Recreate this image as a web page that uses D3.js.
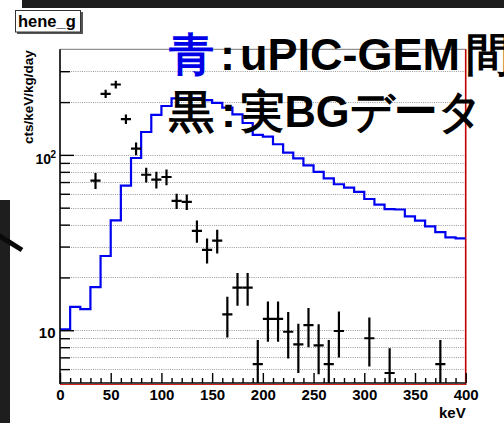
<!DOCTYPE html>
<html>
<head>
<meta charset="utf-8">
<script src="https://cdn.jsdelivr.net/npm/d3@7/dist/d3.min.js"></script>
<style>
  html, body { margin: 0; padding: 0; background: #fff; }
  svg { display: block; }
  text { font-family: "Liberation Sans", Arial, sans-serif; font-weight: bold; }
</style>
</head>
<body>
<svg id="chart" width="504" height="423"></svg>
<script>
// Simulated uPIC-GEM gap spectrum (blue histogram), 10 keV bins from 0 to 400 keV
const simRate = [
  10.1, 13.6, 13.2, 17.6, 26.5, 42.3, 66.8, 96, 135, 169,
  190, 210, 211, 211, 205, 198, 186, 170, 152, 130,
  127, 115, 103, 95.5, 87, 80, 73.5, 68, 65, 61.5,
  56, 52, 49, 48.8, 44.6, 42.2, 39.1, 36.3, 33.8, 33.4
];
const binWidth = 10;

// Measured background data (black points with error bars)
const dataKeV  = [35, 45, 55, 65, 75, 85, 95, 105, 115, 125, 135, 145, 155, 165, 175, 185, 195, 205, 215, 225, 235, 245, 255, 265, 275, 305, 325, 375];
const dataRate = [71.3, 223, 252, 160, 108.6, 77, 72.2, 74.8, 54.6, 54, 36.9, 28.7, 32.4, 12.3, 17.5, 17.5, 6.4, 11.6, 11.6, 9.8, 8.3, 10.7, 8.2, 6.4, 9.9, 9.0, 5.7, 6.4];
const dataErr  = [7.4, 12, 13, 10, 9, 7.5, 7.8, 7.6, 5.5, 5.5, 5.4, 4.7, 5, 3.2, 3.7, 3.7, 2.4, 3.0, 3.0, 2.9, 2.6, 2.7, 2.6, 2.4, 2.9, 2.8, 2.2, 2.4];

// Axis ticks
const xMajor = [0, 50, 100, 150, 200, 250, 300, 350, 400];
const xMinor = [10, 20, 30, 40, 60, 70, 80, 90, 110, 120, 130, 140, 160, 170, 180, 190, 210, 220, 230, 240, 260, 270, 280, 290, 310, 320, 330, 340, 360, 370, 380, 390];
const yMajor = [10, 100];
const yMinor = [6, 7, 8, 9, 20, 30, 40, 50, 60, 70, 80, 90, 200, 300];

const svg = d3.select("#chart");
const L = 60, R = 465.7, T = 49.3, B = 383;

const x = d3.scaleLinear().domain([0, 400]).range([L, R]);
const y = d3.scaleLog().domain([5, 400]).range([B, T]);

// Dark slide surroundings
svg.append("rect").attr("x", 22).attr("y", 0).attr("width", 482).attr("height", 8).attr("fill", "#1d1d1d");
svg.append("rect").attr("x", 0).attr("y", 200).attr("width", 10).attr("height", 223).attr("fill", "#1e1e1e");
svg.append("line").attr("x1", -2).attr("y1", 235).attr("x2", 22).attr("y2", 250)
  .attr("stroke", "#0a0a0a").attr("stroke-width", 5);

// Title box
svg.append("rect").attr("x", 17).attr("y", 12).attr("width", 66).attr("height", 22).attr("fill", "#555");
svg.append("rect").attr("x", 15.5).attr("y", 10.5).attr("width", 65).attr("height", 21.5)
  .attr("fill", "#fff").attr("stroke", "#333").attr("stroke-width", 1);
svg.append("text").attr("x", 18).attr("y", 27).attr("font-size", 16.5).attr("fill", "#000").text("hene_g");

// Grid lines
const grid = svg.append("g");
grid.selectAll("line").data(yMajor.concat(yMinor)).join("line")
  .attr("x1", L).attr("x2", R)
  .attr("y1", d => Math.round(y(d)) + 0.5).attr("y2", d => Math.round(y(d)) + 0.5)
  .attr("stroke", "#9a9a9a").attr("stroke-width", 1).attr("stroke-dasharray", "1,1.2");

// Frame
svg.append("line").attr("x1", L).attr("x2", R).attr("y1", T).attr("y2", T).attr("stroke", "#777").attr("stroke-width", 1);
svg.append("line").attr("x1", R).attr("x2", R).attr("y1", T).attr("y2", B + 2).attr("stroke", "#c00000").attr("stroke-width", 1.6);
svg.append("line").attr("x1", L).attr("x2", R).attr("y1", B + 1.5).attr("y2", B + 1.5).attr("stroke", "#d02020").attr("stroke-width", 1.2);

// Clip for plotted marks
svg.append("clipPath").attr("id", "plotclip").append("rect")
  .attr("x", L).attr("y", T).attr("width", R - L).attr("height", B - T);
const plot = svg.append("g").attr("clip-path", "url(#plotclip)");

// Blue simulated histogram
const steps = simRate.map((v, i) => [i * binWidth, v]);
steps.push([simRate.length * binWidth, simRate[simRate.length - 1]]);
plot.append("path")
  .attr("d", d3.line().x(d => x(d[0])).y(d => y(d[1])).curve(d3.curveStepAfter)(steps))
  .attr("fill", "none").attr("stroke", "#0000f0").attr("stroke-width", 2.2);

// Black data points with error bars
const pts = plot.append("g").attr("stroke", "#000").attr("stroke-width", 2.2);
dataKeV.forEach((k, i) => {
  const v = dataRate[i], e = dataErr[i];
  pts.append("line").attr("x1", x(k)).attr("x2", x(k))
    .attr("y1", y(v + e)).attr("y2", y(Math.max(v - e, 1)));
  pts.append("line").attr("x1", x(k - binWidth / 2)).attr("x2", x(k + binWidth / 2))
    .attr("y1", y(v)).attr("y2", y(v));
});

// X axis
const xAxisMinor = d3.axisBottom(x).tickValues(xMinor).tickSizeInner(-5).tickSizeOuter(0).tickFormat("");
const xAxisMajor = d3.axisBottom(x).tickValues(xMajor).tickSizeInner(-10).tickSizeOuter(0).tickPadding(6);
svg.append("g").attr("transform", `translate(0,${B})`).call(xAxisMinor)
  .call(g => g.select(".domain").remove())
  .selectAll("line").attr("stroke", "#000").attr("stroke-width", 1.4);
const gx = svg.append("g").attr("transform", `translate(0,${B})`).call(xAxisMajor);
gx.select(".domain").remove();
gx.selectAll("line").attr("stroke", "#000").attr("stroke-width", 1.4);
gx.selectAll("text").attr("font-size", 15).attr("font-family", "Liberation Sans, Arial, sans-serif")
  .attr("font-weight", "bold").attr("fill", "#000");
svg.append("line").attr("x1", L).attr("x2", R).attr("y1", B).attr("y2", B).attr("stroke", "#000").attr("stroke-width", 1.5);

svg.append("text").attr("x", R).attr("y", 418).attr("text-anchor", "end")
  .attr("font-size", 15).attr("fill", "#000").text("keV");

// Y axis
const yAxisMinor = d3.axisLeft(y).tickValues(yMinor).tickSizeInner(-10).tickSizeOuter(0).tickFormat("");
const yAxisMajor = d3.axisLeft(y).tickValues(yMajor).tickSizeInner(-14).tickSizeOuter(0).tickFormat("");
[yAxisMinor, yAxisMajor].forEach(ax => {
  const g = svg.append("g").attr("transform", `translate(${L},0)`).call(ax);
  g.select(".domain").remove();
  g.selectAll("line").attr("stroke", "#000").attr("stroke-width", 1.4);
});
svg.append("line").attr("x1", L).attr("x2", L).attr("y1", T).attr("y2", B + 1).attr("stroke", "#000").attr("stroke-width", 1.6);

// Y tick labels (log decades)
svg.append("text").attr("x", 55.5).attr("y", y(10) + 7.5).attr("text-anchor", "end")
  .attr("font-size", 15).attr("fill", "#000").text("10");
svg.append("text").attr("x", 51).attr("y", y(100) + 9).attr("text-anchor", "end")
  .attr("font-size", 14).attr("fill", "#000").text("10");
svg.append("text").attr("x", 50.5).attr("y", y(100) + 3).attr("font-size", 10).attr("fill", "#000").text("2");

// Y axis title
svg.append("text").attr("transform", `translate(33,${T + 1}) rotate(-90)`)
  .attr("text-anchor", "end").attr("font-size", 13.5).attr("fill", "#000").text("cts/keV/kg/day");

// Overlay annotation
const annoFont = '"Liberation Sans", "Noto Sans CJK JP", sans-serif';
const line1 = svg.append("text").attr("y", 70).attr("font-size", 45).attr("font-family", annoFont).attr("fill", "#000");
line1.append("tspan").attr("x", 169).attr("fill", "#0000e8").text("青");
line1.append("tspan").attr("x", 220).text(":");
line1.append("tspan").attr("x", 240).text("uPIC-GEM");
line1.append("tspan").attr("x", 466).text("間");

const line2 = svg.append("text").attr("y", 127).attr("font-size", 45).attr("font-family", annoFont).attr("fill", "#000");
line2.append("tspan").attr("x", 169).text("黒");
line2.append("tspan").attr("x", 221).text(":");
line2.append("tspan").attr("x", 241).attr("textLength", 241).attr("lengthAdjust", "spacingAndGlyphs").text("実BGデータ");
</script>
</body>
</html>
